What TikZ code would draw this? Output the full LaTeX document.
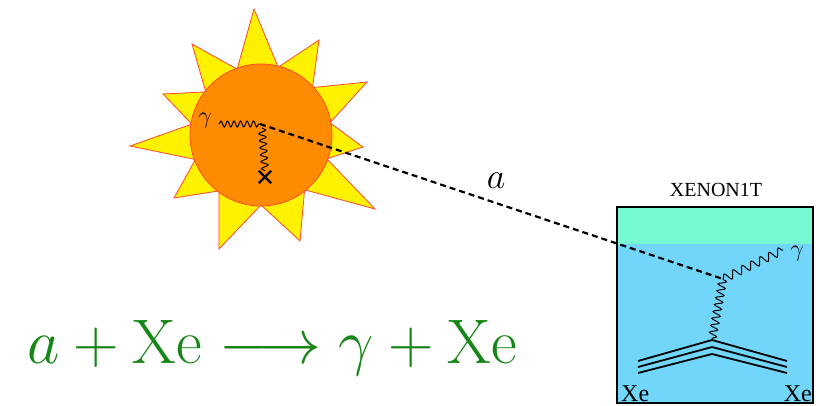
\RequirePackage{fix-cm}
\documentclass[tikz,border=0pt]{standalone}
\usepackage[no-math]{fontspec}
\newfontfamily\tms{Liberation Serif}
\usetikzlibrary{decorations.pathmorphing,calc,shapes.misc}

\definecolor{sunray}{RGB}{255,242,0}
\definecolor{sunedge}{RGB}{255,70,50}
\definecolor{suncore}{RGB}{255,140,0}
\definecolor{detblue}{RGB}{114,214,250}
\definecolor{detband}{RGB}{118,248,210}
\definecolor{eqgreen}{RGB}{22,135,22}

\tikzset{
  photon/.style={decorate, decoration={snake, segment length=6.5pt, amplitude=3pt}, line width=1pt},
  axion/.style={dash pattern=on 6pt off 4pt, line width=2.2pt},
  nucleus/.style={line width=1.8pt},
  mathlbl/.style={inner sep=0pt, font=\fontsize{24}{26}\selectfont},
  xelbl/.style={inner sep=0pt, font=\tms\fontsize{24}{26}\selectfont},
}

\begin{document}
\begin{tikzpicture}[x=1pt, y=-1pt]
\useasboundingbox (0,0) rectangle (820,405);

% sun: eleven rays behind an orange disc
\filldraw[fill=sunray, draw=sunedge, line width=0.8pt, line join=miter]
  (254,9) -- (278.2,67.2) -- (319,40) -- (312.5,87.6) -- (367,82) -- (329.9,122.8)
  -- (363,147) -- (326.8,158.8) -- (375,209) -- (304.6,189.8) -- (300,241)
  -- (261,205) -- (219,249) -- (218.9,190.9) -- (174,198) -- (195.4,159.5)
  -- (130,146) -- (191.8,124.1) -- (163,94) -- (205.8,91.9) -- (192,44)
  -- (237.1,69.2) -- cycle;
\node[circle, fill=suncore, draw=sunedge, line width=0.8pt, minimum size=142pt, inner sep=0pt] (sun) at (261,135) {};

% photon conversion inside the sun
\coordinate (sunV) at (260,124);
\node[mathlbl] (gsun) at (205,121) {$\gamma$};
\coordinate (gsunEnd) at (219,124);
\node[cross out, draw, line width=2.4pt, minimum size=10pt, inner sep=0pt] (xmark) at (265,177) {};
\draw[photon] (gsunEnd) -- (sunV);
\draw[photon, decoration={segment length=7pt, amplitude=3.5pt}] ($(sunV)+(2,4)$) -- (xmark.north);

% detector
\node[fill=detblue, minimum width=196pt, minimum height=196pt, inner sep=0pt] (det) at (715,305) {};
\fill[detband] (det.north west) rectangle ($(det.north east)+(0,37)$);
\draw[line width=1.5pt] (det.north west) rectangle (det.south east);
\node[inner sep=0pt, anchor=base, font=\tms\fontsize{20}{22}\selectfont] (detname) at (716,196) {XENON1T};

% axion from the sun to the detector
\coordinate (detV) at (723,279);
\draw[axion] (sunV) -- (detV);
\node[inner sep=0pt, font=\fontsize{36}{38}\selectfont] (alabel) at (496,181) {$a$};

% absorption vertex in the detector
\node[mathlbl] (gdet) at (797,254) {$\gamma$};
\coordinate (gdetEnd) at (783,250);
\coordinate (nucV) at (712,340);
\draw[photon, decoration={segment length=10pt, amplitude=4pt}] (detV) -- (gdetEnd);
\draw[photon, decoration={segment length=7pt, amplitude=4pt}] (detV) -- (nucV);

% xenon nucleus lines
\coordinate (L1) at (638,361); \coordinate (R1) at (787,361);
\coordinate (L2) at (638,367); \coordinate (A2) at (712,347); \coordinate (R2) at (787,367);
\coordinate (L3) at (638,373); \coordinate (A3) at (712,354); \coordinate (R3) at (787,373);
\draw[nucleus] (L1) -- (nucV) -- (R1);
\draw[nucleus] (L2) -- (A2) -- (R2);
\draw[nucleus] (L3) -- (A3) -- (R3);
\node[xelbl, anchor=base west] (xein) at (621,401) {Xe};
\node[xelbl, anchor=base east] (xeout) at (812,401) {Xe};

% reaction
\node[inner sep=0pt, anchor=base, text=eqgreen, font=\fontsize{63}{69}\selectfont] (reaction) at (272,363)
  {$a+\mathrm{Xe}\longrightarrow\gamma+\mathrm{Xe}$};
\end{tikzpicture}
\end{document}
